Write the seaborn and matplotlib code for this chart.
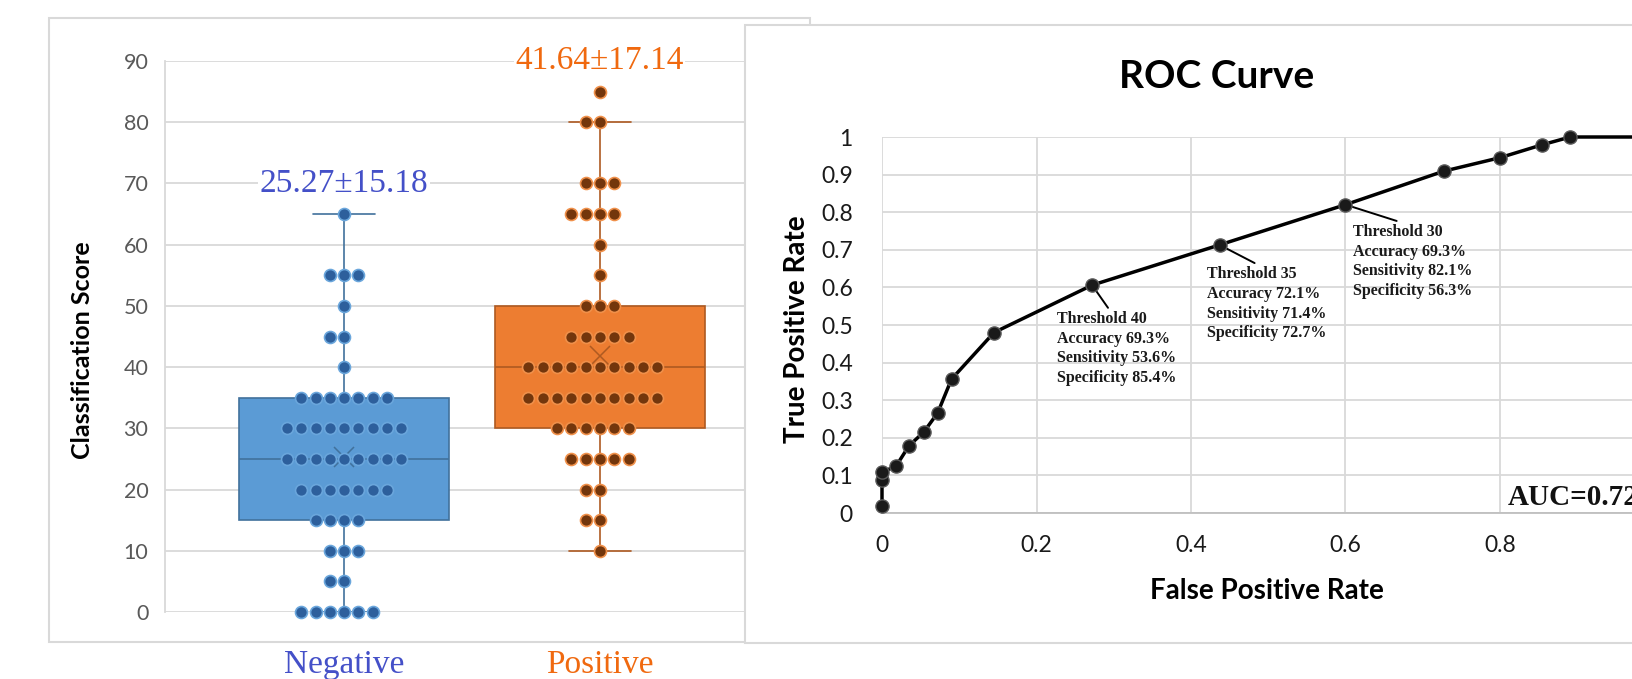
import numpy as np
import pandas as pd
import matplotlib
matplotlib.use("Agg")
import matplotlib.pyplot as plt
import seaborn as sns
from matplotlib.patches import Rectangle

# ---- left panel: classification scores per group ----
groups = ["Negative", "Positive"]
neg_levels = [0, 5, 10, 15, 20, 25, 30, 35, 40, 45, 50, 55, 65]
neg_counts = [6, 2, 3, 4, 7, 9, 9, 7, 1, 2, 1, 3, 1]
pos_levels = [10, 15, 20, 25, 30, 35, 40, 45, 50, 55, 60, 65, 70, 80, 85]
pos_counts = [1, 2, 2, 5, 6, 10, 10, 5, 3, 1, 1, 4, 3, 2, 1]
group_stats = ["25.27±15.18", "41.64±17.14"]
stat_y = [70, 90]

# ---- right panel: ROC curve ----
fpr = [0, 0, 0, 0.018, 0.035, 0.054, 0.072, 0.090, 0.145, 0.272,
       0.437, 0.600, 0.727, 0.800, 0.854, 0.891, 1.0]
tpr = [0.018, 0.087, 0.109, 0.124, 0.179, 0.215, 0.266, 0.356, 0.480, 0.606,
       0.713, 0.820, 0.909, 0.945, 0.979, 1.0, 1.0]
thr_idx = [9, 10, 11]
thr_text = [
    "Threshold 40\nAccuracy 69.3%\nSensitivity 53.6%\nSpecificity 85.4%",
    "Threshold 35\nAccuracy 72.1%\nSensitivity 71.4%\nSpecificity 72.7%",
    "Threshold 30\nAccuracy 69.3%\nSensitivity 82.1%\nSpecificity 56.3%",
]
thr_text_pos = [(0.226, 0.537), (0.421, 0.656), (0.610, 0.768)]
auc_label = "AUC=0.72"

face = {"Negative": "#5b9bd5", "Positive": "#ed7d31"}
edge = {"Negative": "#41719c", "Positive": "#ae5a21"}
dot_face = {"Negative": "#2d5f9c", "Positive": "#73360c"}
dot_edge = {"Negative": "#6aa6dc", "Positive": "#f0904a"}
text_col = {"Negative": "#4450c8", "Positive": "#f0690f"}

df = pd.DataFrame({
    "group": ["Negative"] * sum(neg_counts) + ["Positive"] * sum(pos_counts),
    "score": np.concatenate([np.repeat(neg_levels, neg_counts),
                             np.repeat(pos_levels, pos_counts)]),
})

sns.set_style("white")
plt.rcParams["font.family"] = ["Lato", "DejaVu Sans"]
serif = ["Liberation Serif", "DejaVu Serif"]

W, H = 1632, 679
fig = plt.figure(figsize=(W / 100, H / 100), dpi=100)

# left panel frame
fig.add_artist(Rectangle((49 / W, 1 - 642 / H), (810 - 49) / W, (642 - 18) / H,
                         transform=fig.transFigure, fill=False,
                         edgecolor="#d9d9d9", lw=1.5, zorder=0.5))

ax_l = fig.add_axes([165 / W, 1 - 612 / H, 614 / W, 551 / H])
ax_l.set_zorder(0)

for g in groups:
    sub = df[df["group"] == g]
    sns.boxplot(data=sub, x="group", y="score", order=groups, color=face[g],
                linecolor=edge[g], linewidth=1.2, width=0.82, showfliers=False,
                saturation=1, showmeans=True, capwidths=0.24,
                meanprops=dict(marker="x", markeredgecolor=edge[g],
                               markersize=14, markeredgewidth=1.1),
                ax=ax_l)
    sns.swarmplot(data=sub, x="group", y="score", order=groups,
                  color=dot_face[g], edgecolor=dot_edge[g], linewidth=1.2,
                  size=8.6, ax=ax_l, zorder=3, clip_on=False)

ax_l.set_xlim(-0.70, 1.70)
ax_l.set_ylim(0, 90)
ax_l.set_yticks(range(0, 91, 10))
ax_l.yaxis.grid(True, color="#d9d9d9", lw=1.3)
ax_l.set_axisbelow(True)
for s in ["top", "right", "bottom"]:
    ax_l.spines[s].set_visible(False)
ax_l.spines["left"].set_color("#d9d9d9")
ax_l.spines["left"].set_linewidth(1.3)
ax_l.tick_params(axis="y", length=0, labelsize=15.5, labelcolor="#595959", pad=12)
ax_l.tick_params(axis="x", length=0, pad=27)
ax_l.set_xticks([0, 1])
ax_l.set_xticklabels(groups, fontsize=24, family=serif)
for lab, g in zip(ax_l.get_xticklabels(), groups):
    lab.set_color(text_col[g])
ax_l.set_xlabel("")
ax_l.set_ylabel("Classification Score", fontsize=18, fontweight="bold",
                va="center", color="black")
ax_l.yaxis.set_label_coords(-0.135, 0.475)

for i, (g, txt) in enumerate(zip(groups, group_stats)):
    ax_l.text(i, stat_y[i], txt, ha="center", va="center", color=text_col[g],
              fontsize=24, family=serif, zorder=5, clip_on=False,
              bbox=dict(facecolor="white", edgecolor="none", pad=1))

# right panel frame
fig.add_artist(Rectangle((745 / W, 1 - 643 / H), 1.0, (643 - 25) / H,
                         transform=fig.transFigure, facecolor="white",
                         edgecolor="#d9d9d9", lw=1.5, zorder=1))

ax_r = fig.add_axes([882 / W, 1 - 513 / H, 772.5 / W, 376 / H])
ax_r.set_zorder(2)
ax_r.patch.set_alpha(0)

sns.lineplot(x=fpr, y=tpr, sort=False, estimator=None, color="black", lw=2.5,
             marker="o", markersize=9.5, markerfacecolor="#1a1a1a",
             markeredgecolor="#5a5a5a", markeredgewidth=1,
             clip_on=False, ax=ax_r, zorder=4)

for k, txt, pos in zip(thr_idx, thr_text, thr_text_pos):
    ax_r.annotate(txt, xy=(fpr[k], tpr[k]), xytext=pos, textcoords="data",
                  ha="left", va="top", fontsize=11.5, fontweight="bold",
                  family=serif, color="#1a1a1a", linespacing=1.3,
                  arrowprops=dict(arrowstyle="-", color="black", lw=1.4,
                                  relpos=(0.45, 1.0), shrinkA=0, shrinkB=0))

ax_r.text(0.81, 0.041, auc_label, ha="left", va="center", fontsize=21,
          fontweight="bold", family=serif, color="#111111")

ax_r.set_xlim(0, 1)
ax_r.set_ylim(0, 1)
xt = np.round(np.arange(0, 1.01, 0.2), 1)
yt = np.round(np.arange(0, 1.01, 0.1), 1)
ax_r.set_xticks(xt)
ax_r.set_xticklabels([f"{v:g}" for v in xt])
ax_r.set_yticks(yt)
ax_r.set_yticklabels([f"{v:g}" for v in yt])
ax_r.grid(True, color="#d9d9d9", lw=1.3)
ax_r.set_axisbelow(True)
for s in ["top", "right", "left"]:
    ax_r.spines[s].set_visible(False)
ax_r.spines["bottom"].set_color("#bfbfbf")
ax_r.spines["bottom"].set_linewidth(1.3)
ax_r.tick_params(axis="x", length=0, labelsize=16.5, labelcolor="#1a1a1a", pad=16)
ax_r.tick_params(axis="y", length=0, labelsize=16.5, labelcolor="#1a1a1a", pad=21)
ax_r.set_xlabel("False Positive Rate", fontsize=20, fontweight="bold",
                va="center", color="black")
ax_r.xaxis.set_label_coords(0.498, -0.207)
ax_r.set_ylabel("True Positive Rate", fontsize=20, fontweight="bold",
                va="center", color="black")
ax_r.yaxis.set_label_coords(-0.110, 0.49)

fig.text(1217 / W, 1 - 76 / H, "ROC Curve", ha="center", va="center",
         fontsize=28, fontweight="bold", color="black", zorder=3)

fig.savefig("out.png", dpi=100)
